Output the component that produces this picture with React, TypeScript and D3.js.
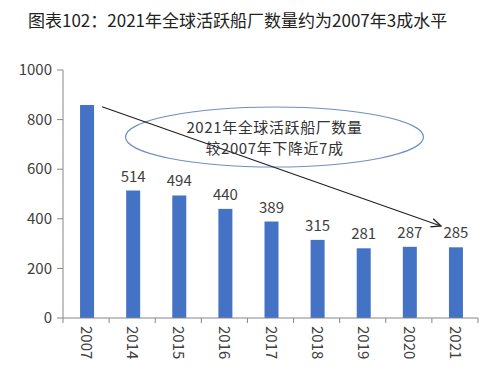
import React from 'react';
import * as d3 from 'd3';

const years = ['2007', '2014', '2015', '2016', '2017', '2018', '2019', '2020', '2021'];
const yards = [859, 514, 494, 440, 389, 315, 281, 287, 285];
const showLabel = [false, true, true, true, true, true, true, true, true];
const yTicks = [0, 200, 400, 600, 800, 1000];

const title = '图表102：2021年全球活跃船厂数量约为2007年3成水平';
const note = ['2021年全球活跃船厂数量', '较2007年下降近7成'];

const FONT = '"Microsoft YaHei", "Noto Sans CJK SC", "Noto Sans", sans-serif';

const App = () => {
  const width = 500;
  const height = 384;
  const left = 63;
  const right = 478;
  const top = 70;
  const bottom = 318;

  const x = d3.scaleBand().domain(years).range([left, right]).paddingInner(0).paddingOuter(0);
  const y = d3.scaleLinear().domain([0, 1000]).range([bottom, top]);
  const barW = 14;

  // arrow from first bar to last bar
  const x0 = x('2007')! + x.bandwidth() / 2 + 16;
  const y0 = y(852);
  const x1 = x('2021')! + x.bandwidth() / 2 - 14;
  const y1 = y(371);

  const cx = (x('2015')! + x('2020')!) / 2 + 4;

  return (
    <svg width={width} height={height} style={{ position: 'absolute', left: 0, top: 0, background: '#fff' }}>
      <defs>
        <marker id="arr" viewBox="0 0 10 10" refX="9" refY="5" markerWidth="9" markerHeight="9" orient="auto">
          <path d="M0,1 L9,5 L0,9" fill="none" stroke="#222" strokeWidth="1.2" />
        </marker>
      </defs>
      <text x={28} y={27} fontFamily={FONT} fontSize={17} fill="#222">{title}</text>

      {/* y axis */}
      <line x1={left} x2={left} y1={top} y2={bottom} stroke="#868686" />
      {yTicks.map(t => (
        <g key={t}>
          <line x1={left - 6} x2={left} y1={y(t)} y2={y(t)} stroke="#868686" />
          <text x={left - 11} y={y(t)} dy="0.35em" textAnchor="end" fontFamily={FONT} fontSize={15} fill="#404040">{t}</text>
        </g>
      ))}

      {/* bars */}
      {years.map((yr, i) => (
        <g key={yr}>
          <rect x={x(yr)! + x.bandwidth() / 2 - barW / 2 + 1} y={y(yards[i])} width={barW} height={bottom - y(yards[i])} fill="#4472C4" />
          {showLabel[i] && (
            <text x={x(yr)! + x.bandwidth() / 2 + 1} y={y(yards[i]) - 9} textAnchor="middle" fontFamily={FONT} fontSize={15} fill="#404040">{yards[i]}</text>
          )}
        </g>
      ))}

      {/* x axis */}
      <line x1={left} x2={right} y1={bottom} y2={bottom} stroke="#868686" />
      {years.map(yr => (
        <line key={yr} x1={x(yr)!} x2={x(yr)!} y1={bottom} y2={bottom + 5} stroke="#868686" />
      ))}
      <line x1={right} x2={right} y1={bottom} y2={bottom + 5} stroke="#868686" />
      {years.map(yr => (
        <text key={yr} transform={`translate(${x(yr)! + x.bandwidth() / 2 - 5},${bottom + 8}) rotate(90)`} fontFamily={FONT} fontSize={15} fill="#404040">{yr}</text>
      ))}

      {/* annotation */}
      <ellipse cx={cx} cy={137} rx={149} ry={30} fill="none" stroke="#6f8fc0" strokeWidth={1.2} />
      <line x1={x0} y1={y0} x2={x1} y2={y1} stroke="#222" strokeWidth={1.2} markerEnd="url(#arr)" />
      {note.map((s, i) => (
        <text key={s} x={cx} y={133 + i * 21} textAnchor="middle" fontFamily={FONT} fontSize={15} letterSpacing={0.6} fill="#333">{s}</text>
      ))}
    </svg>
  );
};

export default App;
